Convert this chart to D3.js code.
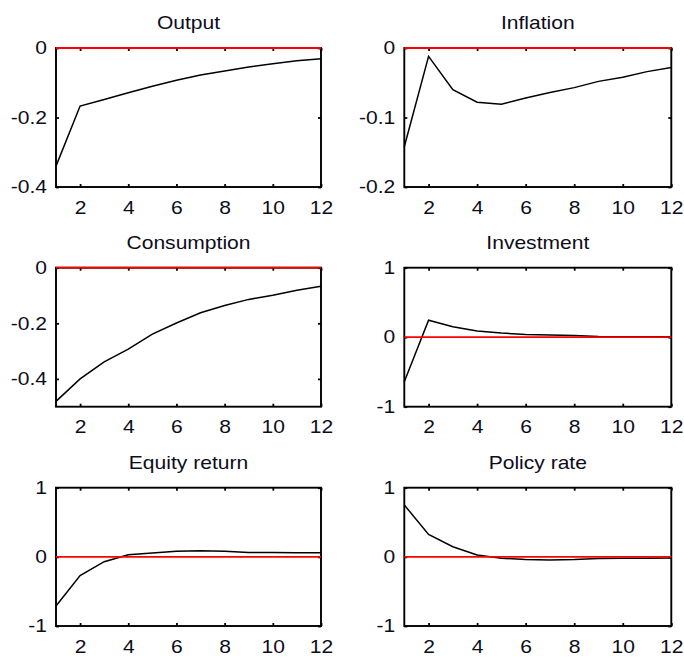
<!DOCTYPE html>
<html>
<head>
<meta charset="utf-8">
<script src="https://cdn.jsdelivr.net/npm/d3@7"></script>
<style>
  html, body { margin: 0; padding: 0; background: #fff; }
  svg { display: block; }
  text { font-family: "Liberation Sans", Arial, sans-serif; fill: #0d0d1a; }
</style>
</head>
<body>
<svg id="chart" width="684" height="661"></svg>
<script>
// Impulse responses over 12 quarters
const horizon = [1, 2, 3, 4, 5, 6, 7, 8, 9, 10, 11, 12];

const titles = ["Output", "Inflation", "Consumption", "Investment", "Equity return", "Policy rate"];

const output      = [-0.34, -0.167, -0.148, -0.129, -0.110, -0.093, -0.078, -0.066, -0.055, -0.045, -0.037, -0.031];
const inflation   = [-0.142, -0.012, -0.060, -0.078, -0.081, -0.072, -0.064, -0.057, -0.048, -0.042, -0.034, -0.028];
const consumption = [-0.481, -0.400, -0.339, -0.293, -0.239, -0.199, -0.162, -0.136, -0.114, -0.099, -0.081, -0.067];
const investment  = [-0.64, 0.245, 0.15, 0.09, 0.06, 0.04, 0.03, 0.025, 0.01, 0.008, 0.006, 0.005];
const equityReturn = [-0.71, -0.27, -0.07, 0.03, 0.055, 0.08, 0.087, 0.08, 0.064, 0.062, 0.06, 0.06];
const policyRate  = [0.75, 0.325, 0.147, 0.026, -0.02, -0.04, -0.045, -0.04, -0.025, -0.02, -0.02, -0.015];

const seriesList = [output, inflation, consumption, investment, equityReturn, policyRate];

const yDomains = [[-0.4, 0], [-0.2, 0], [-0.5, 0], [-1, 1], [-1, 1], [-1, 1]];
const yTickValues = [[0, -0.2, -0.4], [0, -0.1, -0.2], [0, -0.2, -0.4], [1, 0, -1], [1, 0, -1], [1, 0, -1]];
const yTickLabels = [["0", "-0.2", "-0.4"], ["0", "-0.1", "-0.2"], ["0", "-0.2", "-0.4"],
                     ["1", "0", "-1"], ["1", "0", "-1"], ["1", "0", "-1"]];
const xTickValues = [2, 4, 6, 8, 10, 12];
const xTickLabels = ["2", "4", "6", "8", "10", "12"];

// Grid geometry (pixel boxes of the six axes)
const cols = [[56, 321], [404.3, 671.3]];
const rows = [[48, 187], [267.7, 406.7], [487.7, 626]];
const FONT = 18;
const STRETCH = "scale(1.17,1)";

const svg = d3.select("#chart");

seriesList.forEach((values, i) => {
  const [x0, x1] = cols[i % 2];
  const [y0, y1] = rows[Math.floor(i / 2)];

  const x = d3.scaleLinear().domain([1, 12]).range([x0, x1]);
  const y = d3.scaleLinear().domain(yDomains[i]).range([y1, y0]);
  const fmtY = v => yTickLabels[i][yTickValues[i].indexOf(v)];
  const fmtX = v => xTickLabels[xTickValues.indexOf(v)];

  const g = svg.append("g");

  // bottom axis with labels
  const bx = g.append("g").attr("transform", `translate(0,${y1})`)
    .call(d3.axisBottom(x).tickValues(xTickValues).tickFormat(fmtX).tickSize(-3).tickPadding(14));
  // left axis with labels
  const ly = g.append("g").attr("transform", `translate(${x0},0)`)
    .call(d3.axisLeft(y).tickValues(yTickValues[i]).tickFormat(fmtY).tickSize(-3).tickPadding(7.7));
  // top and right ticks only
  const tx = g.append("g").attr("transform", `translate(0,${y0})`)
    .call(d3.axisTop(x).tickValues(xTickValues).tickFormat("").tickSize(-3));
  const ry = g.append("g").attr("transform", `translate(${x1},0)`)
    .call(d3.axisRight(y).tickValues(yTickValues[i]).tickFormat("").tickSize(-3));

  [bx, ly, tx, ry].forEach(a => {
    a.select(".domain").remove();
    a.selectAll(".tick line").attr("stroke", "#000").attr("stroke-width", 1.8);
    a.selectAll(".tick text")
      .attr("font-size", FONT)
      .attr("font-family", "Liberation Sans, Arial, sans-serif")
      .attr("fill", "#0d0d1a")
      .attr("transform", STRETCH);
  });

  // axes box
  g.append("rect")
    .attr("x", x0).attr("y", y0)
    .attr("width", x1 - x0).attr("height", y1 - y0)
    .attr("fill", "none").attr("stroke", "#000").attr("stroke-width", 1.9);

  // response path
  g.append("path")
    .datum(values)
    .attr("fill", "none")
    .attr("stroke", "#000")
    .attr("stroke-width", 1.5)
    .attr("d", d3.line().x((d, k) => x(horizon[k])).y(d => y(d)));

  // zero reference line
  g.append("line")
    .attr("x1", x(1)).attr("x2", x(12))
    .attr("y1", y(0)).attr("y2", y(0))
    .attr("stroke", "#ff0000").attr("stroke-width", 1.8);

  // panel title
  g.append("text")
    .attr("transform", `translate(${(x0 + x1) / 2},${y0 - 19}) ${STRETCH}`)
    .attr("text-anchor", "middle")
    .attr("font-size", FONT)
    .text(titles[i]);
});
</script>
</body>
</html>
